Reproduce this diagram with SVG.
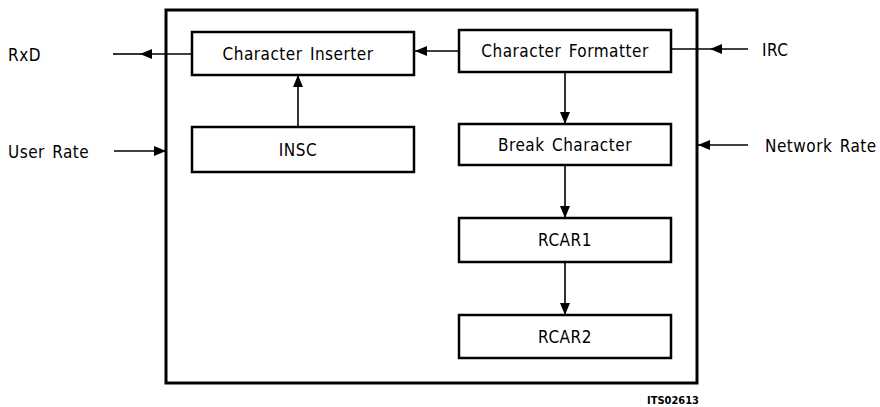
<svg xmlns="http://www.w3.org/2000/svg" width="880" height="407" viewBox="0 0 880 407">
<style>
.box{fill:#fff;stroke:#000;stroke-width:2.5}
.outer{fill:none;stroke:#000;stroke-width:3}
.c{fill:none;stroke:#000;stroke-width:1.6}
text{font-family:"DejaVu Sans Condensed","Liberation Sans",sans-serif;font-size:17px;letter-spacing:0.5px;word-spacing:2px;fill:#000}
.m{text-anchor:middle}
.id{font-size:11px;font-weight:bold;letter-spacing:0}
</style>
<defs>
<marker id="a" markerWidth="12" markerHeight="10" refX="12" refY="5" orient="auto" markerUnits="userSpaceOnUse">
<path d="M0,0 L12,5 L0,10 Z" fill="#000"/>
</marker>
</defs>
<rect class="outer" x="166" y="10" width="531" height="373"/>
<g id="connectors">
<line class="c" x1="192" y1="54" x2="140" y2="54" marker-end="url(#a)"/>
<line class="c" x1="140" y1="54" x2="113" y2="54"/>
<line class="c" x1="459" y1="51" x2="415" y2="51" marker-end="url(#a)"/>
<line class="c" x1="298" y1="127" x2="298" y2="75" marker-end="url(#a)"/>
<line class="c" x1="114" y1="151" x2="166" y2="151" marker-end="url(#a)"/>
<line class="c" x1="748" y1="49" x2="710" y2="49" marker-end="url(#a)"/>
<line class="c" x1="710" y1="49" x2="671" y2="49"/>
<line class="c" x1="748" y1="145" x2="698" y2="145" marker-end="url(#a)"/>
<line class="c" x1="565" y1="72" x2="565" y2="124" marker-end="url(#a)"/>
<line class="c" x1="565" y1="165" x2="565" y2="218" marker-end="url(#a)"/>
<line class="c" x1="565" y1="262" x2="565" y2="315" marker-end="url(#a)"/>
</g>
<g id="inserter"><rect class="box" x="192" y="32" width="222" height="43"/><text class="m" x="298" y="60">Character Inserter</text></g>
<g id="formatter"><rect class="box" x="459" y="30" width="212" height="42"/><text class="m" x="565" y="57">Character Formatter</text></g>
<g id="insc"><rect class="box" x="192" y="127" width="222" height="45"/><text class="m" x="298" y="156">INSC</text></g>
<g id="break"><rect class="box" x="459" y="124" width="212" height="41"/><text class="m" x="565" y="151">Break Character</text></g>
<g id="rcar1"><rect class="box" x="459" y="218" width="212" height="44"/><text class="m" x="565" y="246">RCAR1</text></g>
<g id="rcar2"><rect class="box" x="459" y="315" width="212" height="43"/><text class="m" x="565" y="343">RCAR2</text></g>
<g id="labels">
<text x="8" y="61">RxD</text>
<text x="8" y="158">User Rate</text>
<text x="762" y="56">IRC</text>
<text x="765" y="152">Network Rate</text>
<text class="id" x="647" y="404">ITS02613</text>
</g>
</svg>
